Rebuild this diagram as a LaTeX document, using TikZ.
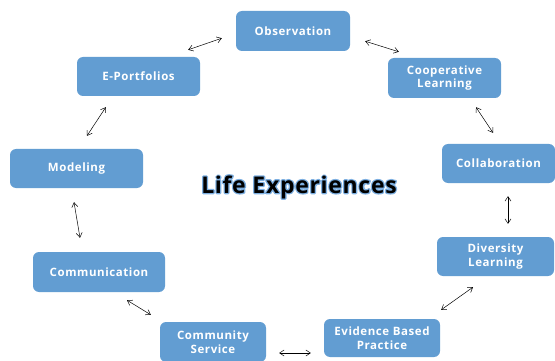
\documentclass[tikz,border=0pt]{standalone}
\usepackage{fontspec}
\setmainfont{Open Sans}
\newfontfamily\topicfont{Open Sans}[LetterSpace=5]
\newfontfamily\headfont{Open Sans}[LetterSpace=3]
\usetikzlibrary{arrows.meta,calc}
\definecolor{boxblue}{RGB}{98,157,210}
\definecolor{glowblue}{RGB}{125,175,225}
\newcommand{\outlined}[1]{\special{pdf:literal direct 1 Tr 2.6 w 1 j}#1\special{pdf:literal direct 0 Tr 0.4 w 0 j}}
\begin{document}
\begin{tikzpicture}[x=1pt, y=-1pt,
    topic/.style={rectangle, rounded corners=6pt, fill=boxblue, text=white,
      font=\topicfont\fontsize{11.5}{13.5}\selectfont\bfseries, align=center, inner sep=0pt},
    link/.style={{Straight Barb[length=4.5pt,width=6pt]}-{Straight Barb[length=4.5pt,width=6pt]}, line width=0.5pt},
    head/.style={font=\headfont\fontsize{23}{25}\selectfont\bfseries}]
      \useasboundingbox (0,0) rectangle (555,361);

      \node[topic, minimum width=114pt, minimum height=40pt] (obs) at (293, 31) {Observation};
      \node[topic, minimum width=123pt, minimum height=39pt] (eport) at (138.5, 76.5) {E-Portfolios};
      \node[topic, minimum width=113pt, minimum height=40pt] (coop) at (444.5, 78) {Cooperative\\Learning};
      \node[topic, minimum width=133pt, minimum height=39pt] (model) at (76.5, 168.5) {Modeling};
      \node[topic, minimum width=113pt, minimum height=39pt] (collab) at (498.5, 163.5) {Collaboration};
      \node[topic, minimum width=132pt, minimum height=40pt] (comm) at (99, 272) {Communication};
      \node[topic, minimum width=117pt, minimum height=39pt] (divers) at (495.5, 256.5) {Diversity\\Learning};
      \node[topic, minimum width=106pt, minimum height=40pt] (serv) at (213, 342) {Community\\Service};
      \node[topic, minimum width=116pt, minimum height=38pt] (evid) at (382, 338) {Evidence Based\\Practice};

      % centre title, blue outline under black letters
      \node[head, text=glowblue] (glow) at (299, 187) {\outlined{Life Experiences}};
      \node[head] (title) at (glow) {Life Experiences};

      \draw[link] ($(eport.north east)+(-12,-7)$) -- ($(obs.south west)+(-14,-13)$);
      \draw[link] ($(obs.south east)+(15,-10)$) -- ($(coop.north west)+(11,-6)$);
      \draw[link] ($(eport.south west)+(29,11)$) -- ($(model.north)+(10.5,-13)$);
      \draw[link] ($(model.south)+(-2.5,14)$) -- ($(comm.north)+(-19,-14)$);
      \draw[link] ($(coop.south)+(31.5,9)$) -- ($(collab.north)+(-5.5,-11)$);
      \draw[link] ($(collab.south)+(9.5,13)$) -- ($(divers.north)+(12.5,-13)$);
      \draw[link] ($(comm.south)+(28,8)$) -- ($(serv.north west)+(-9,-7)$);
      \draw[link] ($(serv.east)+(13,11)$) -- ($(evid.west)+(-13,15)$);
      \draw[link] ($(evid.north east)+(1,-9)$) -- ($(divers.south)+(-22.5,11)$);
    \end{tikzpicture}
\end{document}
